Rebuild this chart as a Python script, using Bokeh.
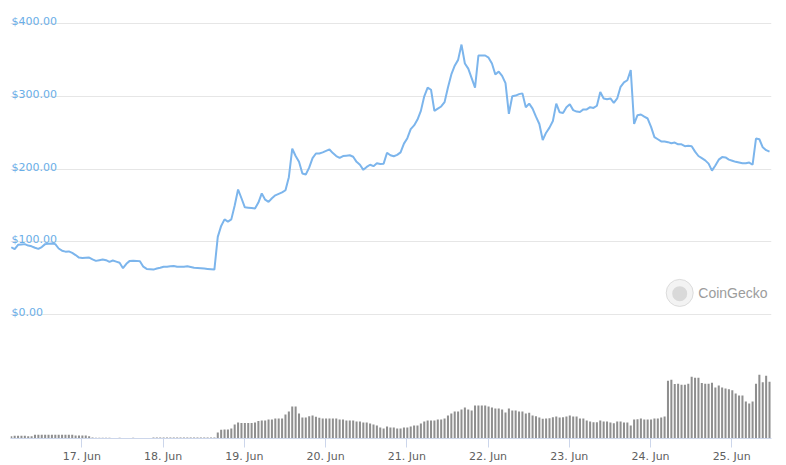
import pandas as pd
from bokeh.plotting import figure
from bokeh.models import Range1d, DaysTicker, DatetimeTickFormatter, FixedTicker, ColumnDataSource, Label
from bokeh.embed import file_html
from bokeh.resources import INLINE
from bokeh.core.properties import value

# ---- data (hourly) ----
start_time = "2020-06-16 03:10"

price = [
    92.7, 90, 96, 96.5, 97, 95, 94, 92, 90.5, 93,
    97, 97.5, 98, 97, 91, 88, 86.7, 87, 85, 82,
    78.5, 78, 78.3, 78.5, 76, 74, 75, 76, 75, 72.6,
    74.5, 73, 71.5, 64, 70, 74, 74.2, 74, 73.5, 66,
    63, 62.6, 62, 63.5, 64.6, 66, 66, 66.5, 67, 66,
    66, 66, 66.5, 65.5, 64.5, 64.3, 64, 63.5, 63, 62.5,
    62, 107, 122, 131, 128, 131, 150, 172, 160, 147.5,
    147, 146.5, 146, 154, 166.7, 158, 155, 160, 164, 166,
    168, 171, 189, 228, 218, 210, 194, 192.7, 202, 215,
    221.5, 221.5, 223, 225, 227, 222, 218, 215.5, 218, 218.5,
    219, 217, 210, 206, 199, 203, 206, 204, 208, 207,
    207.5, 222.4, 219, 217.6, 219.5, 223, 235, 242.5, 255, 260,
    268, 280, 300, 312, 309, 280, 283, 286, 292, 312,
    330, 342, 350, 371, 345, 338, 325, 312, 356, 356,
    356, 353, 345, 330, 334, 328, 318, 276, 300, 301,
    303, 304, 285, 290, 283, 272, 262, 240, 250, 257,
    266, 290, 278, 277, 285, 289, 281, 279, 278.5, 282,
    282, 285, 284, 287, 306, 297, 296, 297, 291, 297,
    313, 319, 322, 336, 262, 274, 275, 272, 269.5, 258,
    244, 241, 238, 238, 237, 235.5, 236.5, 234, 234, 231.5,
    232, 231.5, 224, 218, 215, 212, 207.5, 198, 205, 213,
    216.5, 216, 213, 211.5, 210, 209, 208, 208, 209, 206,
    242, 241, 230, 226, 224,
]

volume = [
    2.3, 2.7, 2.7, 2.7, 2.7, 2.3, 2.3, 3.7, 3.7, 3.7,
    3.7, 3.7, 3.7, 3.7, 3.7, 3.7, 3.7, 3.7, 3.7, 3.0,
    3.0, 3.0, 3.0, 2.3,
    1.0, 0.7, 0.7, 0.7, 0.7, 0.7, 0.5, 0.5, 0.7, 0.3,
    0, 0, 0.7, 0, 0, 0, 0, 0,
    1, 1, 1, 1, 1, 1, 1, 1, 1, 1, 1, 1, 1, 1, 1, 1, 1, 1, 1,
    6, 8.7, 9, 9, 10, 14, 16, 15.5, 15.5, 15.5, 15.5, 16, 17.5,
    18, 18, 19, 19, 20, 20, 20, 24, 27, 32,
    32, 25, 21, 21, 22.3, 23, 21.7, 20.7, 20, 20,
    20, 20, 20, 19, 19, 18, 18, 18, 17, 17,
    16, 16, 15, 14, 13, 11, 10, 12, 11, 11,
    10, 10, 11, 11, 12, 13, 13, 15, 17, 18,
    18, 18, 19, 19, 20, 23, 25, 27, 27, 29,
    31, 29, 28, 33, 33, 33, 33, 32, 31, 30,
    30, 29, 26, 30, 28, 28, 27,
    27, 25, 25.7, 23, 22.3, 21, 19.7, 20, 20.3, 21.3,
    22, 21, 21.3, 22, 23, 22, 22, 20, 20, 18,
    17, 16.3, 16.3, 18, 17, 17, 16, 15.3, 17, 17,
    16, 16, 13, 19, 19.3, 20, 19, 19, 19, 20,
    20, 21, 22, 58, 59, 54.7, 55, 54, 54, 55,
    62, 61, 61, 55.7, 55, 55, 56, 51, 53, 51,
    50, 49.3, 48.3, 45, 43, 43, 37, 35, 37, 55,
    64, 56.3, 63, 57,
]

price_ticks = [0, 100, 200, 300, 400]
price_tick_labels = ["$0.00", "$100.00", "$200.00", "$300.00", "$400.00"]

times = pd.date_range(start_time, periods=len(price), freq="h")
src = ColumnDataSource(dict(t=times, price=price, vol=volume))

x_start = pd.Timestamp("2020-06-16 02:56")
x_end = pd.Timestamp("2020-06-25 11:45")

p = figure(width=786, height=465, x_axis_type="datetime",
           output_backend="svg", toolbar_location=None,
           x_range=Range1d(x_start, x_end),
           y_range=Range1d(-169.9, 417.8),
           min_border_left=10, min_border_right=15,
           min_border_top=10, min_border_bottom=26)
p.outline_line_color = None
p.background_fill_color = "white"
p.border_fill_color = "white"

p.extra_y_ranges = {"vol": Range1d(0, 429)}

# grid
p.xgrid.visible = False
p.ygrid.ticker = FixedTicker(ticks=price_ticks)
p.ygrid.grid_line_color = "#e6e6e6"
p.ygrid.grid_line_width = 1
p.yaxis.visible = False

# volume bars
p.vbar(x="t", top="vol", bottom=0, width=0.6 * 3600 * 1000, source=src,
       y_range_name="vol", fill_color="#8f8f8f", line_color=None)

# price line
p.line(x="t", y="price", source=src, line_color="#7cb5ec", line_width=2)

# price labels inside the plot
lab_src = ColumnDataSource(dict(x=[x_start] * len(price_ticks), y=price_ticks,
                                text=price_tick_labels))
p.text(x="x", y="y", text="text", source=lab_src, x_offset=1, y_offset=-2,
       text_font=value("DejaVu Sans"), text_font_size="11px",
       text_color="#6aaee8", text_baseline="alphabetic", text_align="left")

# x axis
xa = p.xaxis[0]
xa.ticker = DaysTicker(days=list(range(1, 32)))
xa.formatter = DatetimeTickFormatter(days="%d. %b", months="%d. %b", hours="%d. %b")
xa.axis_line_color = "#ccd6eb"
xa.major_tick_line_color = "#ccd6eb"
xa.major_tick_out = 9
xa.major_tick_in = 0
xa.minor_tick_line_color = None
xa.major_label_text_font = "DejaVu Sans"
xa.major_label_text_font_size = "11px"
xa.major_label_text_color = "#606060"
xa.major_label_standoff = 2

# watermark
wm_x = pd.Timestamp("2020-06-24 08:38")
p.scatter(x=[wm_x], y=[30], size=27, fill_color="#f3f3f3", line_color="#dcdcdc",
          line_width=1)
p.scatter(x=[wm_x], y=[29], size=15, fill_color="#d9d9d9", line_color=None)
p.add_layout(Label(x=pd.Timestamp("2020-06-24 14:08").value / 1e6, y=30,
                   text="CoinGecko", text_font="Liberation Sans",
                   text_font_size="14px", text_color="#9c9c9c",
                   text_baseline="middle"))

open("out.html", "w").write(file_html(p, INLINE))
